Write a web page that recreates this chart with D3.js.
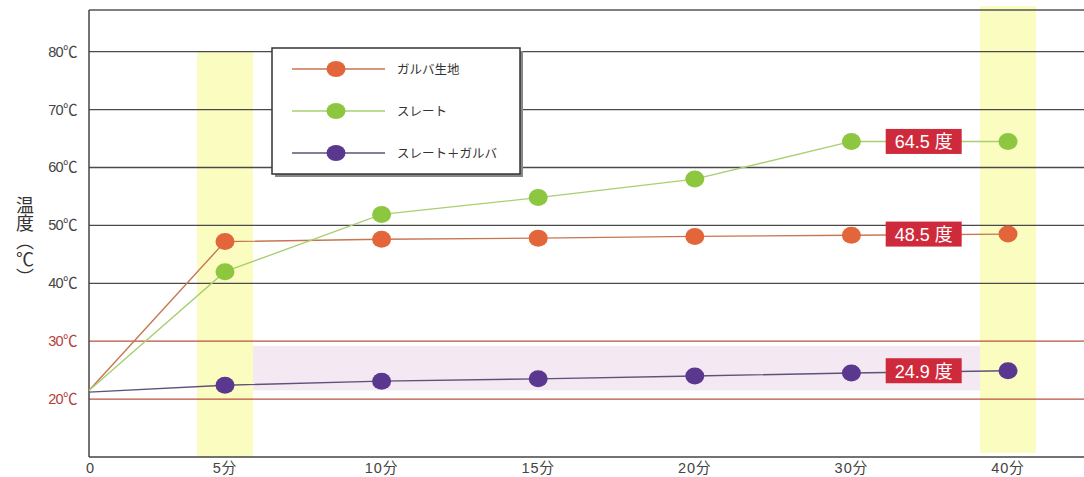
<!DOCTYPE html>
<html>
  <head>
  <meta charset="utf-8">
  <title>温度比較</title>
  <style>
    body, html { margin: 0; padding: 0; background: #fff; }
    svg { display: block; }
    text { font-family: "Liberation Sans", "Noto Sans CJK JP", sans-serif; }
    .cjk { font-family: "Noto Sans CJK JP", sans-serif; }
  </style>
  </head>
  <body>
  <svg id="svg" width="1084" height="477"></svg>

  <script src="https://d3js.org/d3.v7.min.js"></script>
  <script>
    // data
    const times = ['5分', '10分', '15分', '20分', '30分', '40分']
    const startTemp = { galva: 21.5, slate: 21.5, both: 21.2 }
    const galva = [47.2, 47.6, 47.8, 48.1, 48.3, 48.5]
    const slate = [42.0, 51.9, 54.8, 58.0, 64.5, 64.5]
    const both = [22.4, 23.1, 23.5, 24.0, 24.5, 24.9]
    const seriesNames = ['ガルバ生地', 'スレート', 'スレート＋ガルバ']
    const finalLabels = ['48.5 度', '64.5 度', '24.9 度']
    const gridTicks = [40, 50, 60, 70, 80]
    const redTicks = [20, 30]
    const comfortBand = [21.5, 29.2]

    const svg = d3.select('#svg')
    const pLeft = 89, pRight = 1084, pTop = 10, pBottom = 457

    const y = d3.scaleLinear().domain([10, 87.2]).range([pBottom, pTop])
    const x = d3.scalePoint().domain(times).range([225, 1008])

    const series = [
      { key: 'galva', name: seriesNames[0], vals: galva, dot: '#e2663a', line: '#c77650', label: finalLabels[0] },
      { key: 'slate', name: seriesNames[1], vals: slate, dot: '#8dc63f', line: '#a9cf72', label: finalLabels[1] },
      { key: 'both', name: seriesNames[2], vals: both, dot: '#5b3890', line: '#5e5278', label: finalLabels[2] }
    ]

    // yellow highlight columns
    const bandW = 56
    svg.append('rect')
      .attr('x', x('5分') - 28).attr('y', y(80))
      .attr('width', bandW).attr('height', pBottom - y(80))
      .attr('fill', '#fbfcc0')
    svg.append('rect')
      .attr('x', x('40分') - 28).attr('y', pTop - 4)
      .attr('width', bandW).attr('height', pBottom - pTop)
      .attr('fill', '#fbfcc0')

    // lavender band between the columns
    svg.append('rect')
      .attr('x', x('5分') + 28).attr('y', y(comfortBand[1]))
      .attr('width', (x('40分') - 28) - (x('5分') + 28))
      .attr('height', y(comfortBand[0]) - y(comfortBand[1]))
      .attr('fill', '#f4e8f3')

    // grid
    svg.selectAll('.grid').data(gridTicks).join('line')
      .attr('x1', pLeft).attr('x2', pRight)
      .attr('y1', d => y(d)).attr('y2', d => y(d))
      .attr('stroke', '#4a4a4a').attr('stroke-width', 1.3)
    svg.selectAll('.red').data(redTicks).join('line')
      .attr('x1', pLeft).attr('x2', pRight)
      .attr('y1', d => y(d)).attr('y2', d => y(d))
      .attr('stroke', '#b9503e').attr('stroke-width', 1.3)

    // frame
    svg.append('line').attr('x1', pLeft).attr('x2', pRight).attr('y1', pTop).attr('y2', pTop)
      .attr('stroke', '#555').attr('stroke-width', 1.3)
    svg.append('line').attr('x1', pLeft).attr('x2', pLeft).attr('y1', pTop).attr('y2', pBottom)
      .attr('stroke', '#444').attr('stroke-width', 1.5)
    svg.append('line').attr('x1', pLeft).attr('x2', pRight).attr('y1', pBottom).attr('y2', pBottom)
      .attr('stroke', '#444').attr('stroke-width', 1.5)

    // y tick labels
    svg.selectAll('.ylab').data(gridTicks.concat(redTicks)).join('text')
      .attr('x', 77).attr('y', d => y(d) + 5)
      .attr('text-anchor', 'end')
      .attr('font-size', 14.5)
      .attr('letter-spacing', -0.6)
      .attr('fill', d => d < 40 ? '#b5403a' : '#444')
      .text(d => d + '℃')

    // y title, vertical writing
    svg.append('text')
      .attr('class', 'cjk')
      .attr('x', 25).attr('y', 196)
      .attr('font-size', 18).attr('fill', '#333')
      .style('writing-mode', 'vertical-rl')
      .style('text-orientation', 'mixed')
      .text('温度（℃）')

    // x tick labels
    svg.append('text').attr('x', pLeft + 1).attr('y', 473)
      .attr('text-anchor', 'middle').attr('font-size', 14.5).attr('fill', '#444').text('0')
    svg.selectAll('.xlab').data(times).join('text')
      .attr('x', d => x(d)).attr('y', 473)
      .attr('text-anchor', 'middle').attr('font-size', 14.5).attr('fill', '#444')
      .attr('letter-spacing', 1)
      .text(d => d)

    // lines
    const linegen = d3.line().x(d => d[0]).y(d => y(d[1]))
    series.forEach(s => {
      const pts = [[pLeft, startTemp[s.key]]].concat(s.vals.map((v, i) => [x(times[i]), v]))
      svg.append('path')
        .attr('d', linegen(pts))
        .attr('fill', 'none')
        .attr('stroke', s.line)
        .attr('stroke-width', 1.4)
    })

    // markers
    series.forEach(s => {
      svg.selectAll('.dot-' + s.key).data(s.vals).join('ellipse')
        .attr('cx', (d, i) => x(times[i]))
        .attr('cy', d => y(d))
        .attr('rx', 9.5).attr('ry', 8.5)
        .attr('fill', s.dot)
    })

    // value boxes
    const lx = (x('30分') + x('40分')) / 2 - 6
    series.forEach(s => {
      const v = s.vals[s.vals.length - 1]
      const g = svg.append('g').attr('transform', `translate(${lx},${y(v)})`)
      g.append('rect').attr('x', -38).attr('y', -12.5).attr('width', 76).attr('height', 25)
        .attr('fill', '#cf2a3c')
      g.append('text').attr('y', 7).attr('text-anchor', 'middle')
        .attr('font-size', 18).attr('fill', '#fff')
        .text(s.label)
    })

    // legend
    const lg = svg.append('g').attr('transform', 'translate(272,48)')
    lg.append('rect').attr('x', 3).attr('y', 3).attr('width', 248).attr('height', 126).attr('fill', '#888')
    lg.append('rect').attr('width', 248).attr('height', 126)
      .attr('fill', '#fff').attr('stroke', '#333').attr('stroke-width', 1.5)
    series.forEach((s, i) => {
      const yy = 21 + i * 42
      lg.append('line').attr('x1', 20).attr('x2', 113).attr('y1', yy).attr('y2', yy)
        .attr('stroke', s.line).attr('stroke-width', 1.3)
      lg.append('ellipse').attr('cx', 64).attr('cy', yy).attr('rx', 9.5).attr('ry', 8)
        .attr('fill', s.dot)
      lg.append('text').attr('class', 'cjk').attr('x', 125).attr('y', yy + 4.5)
        .attr('font-size', 12.5).attr('fill', '#333').text(s.name)
    })
  </script>
  </body>
</html>
